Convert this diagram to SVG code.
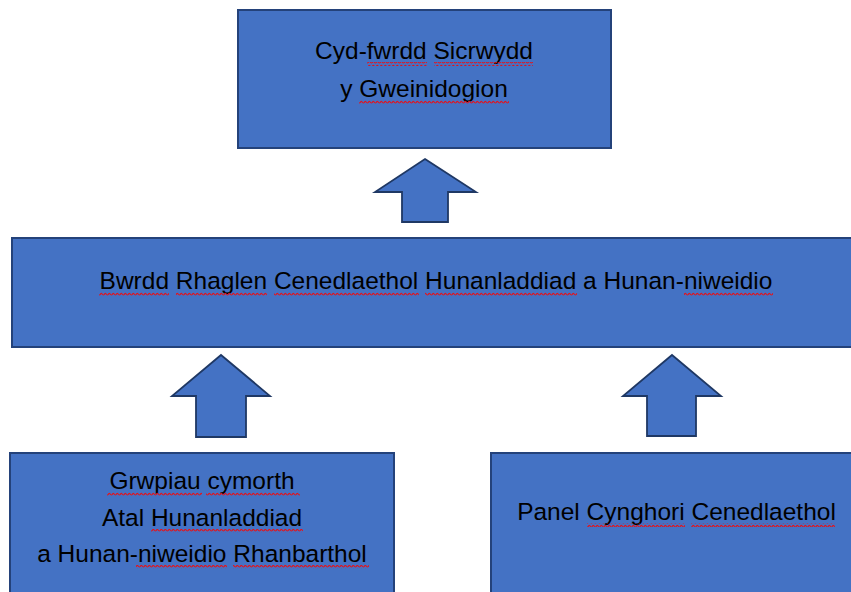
<svg xmlns="http://www.w3.org/2000/svg" width="851" height="592" viewBox="0 0 851 592">
  <style>
    .box { fill: #4472C4; stroke: #24427A; stroke-width: 2; }
    .arrow { fill: #4472C4; stroke: #1F3864; stroke-width: 1.8; stroke-linejoin: miter; }
    .lbl { font-family: "Liberation Sans", Arial, sans-serif; font-size: 24.5px; fill: #000; text-anchor: middle; }
    .wave { fill: url(#wave); }
  </style>
  <defs>
    <pattern id="wave" patternUnits="userSpaceOnUse" x="0" y="0" width="4" height="4">
      <path d="M0 3 Q1 0.6 2 1.8 T4 3" fill="none" stroke="#E0141E" stroke-width="1.1"/>
    </pattern>
  </defs>
  <rect width="851" height="592" fill="#FFFFFF"/>

  <g id="connectors">
    <polygon class="arrow" points="425,159 476,192 448,192 448,222 402,222 402,192 375,192"/>
    <polygon class="arrow" points="221,355 270,396 246,396 246,437 196,437 196,396 172,396"/>
    <polygon class="arrow" points="672,355 721,396 696,396 696,436 647,436 647,396 623,396"/>
  </g>

  <g id="node-ministers">
    <rect class="box" x="238" y="10" width="373" height="138"/>
    <text class="lbl" x="424" y="59">Cyd-fwrdd Sicrwydd</text>
    <text class="lbl" x="424" y="97">y Gweinidogion</text>
    <rect class="wave" x="367" y="62" width="60" height="4"/>
    <rect class="wave" x="434" y="62" width="99" height="4"/>
    <rect class="wave" x="359" y="100" width="150" height="4"/>
  </g>

  <g id="node-board">
    <rect class="box" x="12" y="238" width="846" height="109"/>
    <text class="lbl" x="436" y="289">Bwrdd Rhaglen Cenedlaethol Hunanladdiad a Hunan-niweidio</text>
    <rect class="wave" x="99" y="292" width="70" height="4"/>
    <rect class="wave" x="176" y="292" width="91" height="4"/>
    <rect class="wave" x="274" y="292" width="145" height="4"/>
    <rect class="wave" x="425" y="292" width="152" height="4"/>
    <rect class="wave" x="684" y="292" width="89" height="4"/>
  </g>

  <g id="node-regional">
    <rect class="box" x="10" y="453" width="384" height="145"/>
    <text class="lbl" x="202" y="489">Grwpiau cymorth</text>
    <text class="lbl" x="202" y="526">Atal Hunanladdiad</text>
    <text class="lbl" x="202" y="562">a Hunan-niweidio Rhanbarthol</text>
    <rect class="wave" x="107" y="492" width="95" height="4"/>
    <rect class="wave" x="206" y="492" width="94" height="4"/>
    <rect class="wave" x="151" y="529" width="152" height="4"/>
    <rect class="wave" x="136" y="565" width="91" height="4"/>
    <rect class="wave" x="233" y="565" width="136" height="4"/>
  </g>

  <g id="node-panel">
    <rect class="box" x="491" y="453" width="370" height="145"/>
    <text class="lbl" x="676.5" y="520">Panel Cynghori Cenedlaethol</text>
    <rect class="wave" x="587" y="523" width="98" height="4"/>
    <rect class="wave" x="691" y="523" width="144" height="4"/>
  </g>
</svg>
